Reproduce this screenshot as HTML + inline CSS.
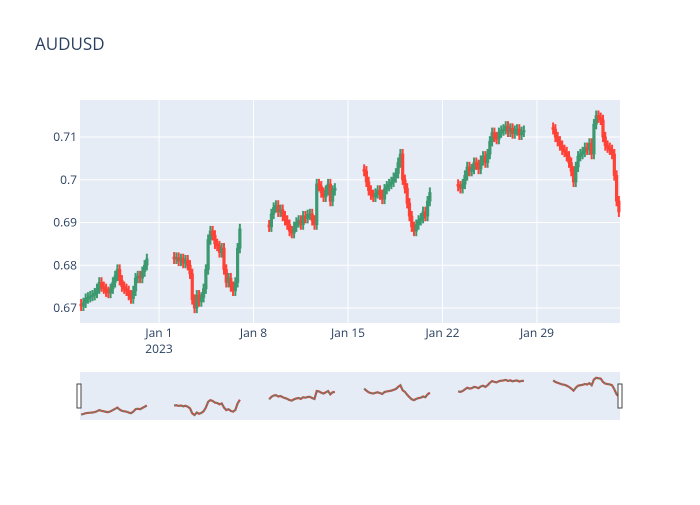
<!DOCTYPE html>
<html><head><meta charset="utf-8"><style>
body{margin:0;background:#fff;font-family:"Liberation Sans",sans-serif}
svg text{font-family:"Open Sans","Liberation Sans",sans-serif;fill:#2a3f5f}
</style></head><body>
<svg id="chart" width="700" height="500">
<rect width="700" height="500" fill="#fff"/>
<text x="35" y="50" font-size="17">AUDUSD</text>
<rect x="80" y="100" width="540" height="223" fill="#e5ecf6"/>
<g id="grid"></g>
<g id="candles"></g>
<g id="axes"></g>
<rect x="80" y="372" width="540" height="48" fill="#e5ecf6"/>
<g id="mini"></g>
<rect x="77" y="384" width="4" height="24" fill="#fff" stroke="#444" stroke-width="1"/>
<rect x="618" y="384" width="4" height="24" fill="#fff" stroke="#444" stroke-width="1"/>
</svg>
<script>
const weekStarts=[80,173,268,363,457,552];
const yTicks=[0.67,0.68,0.69,0.70,0.71];
const yTickLabels=["0.67","0.68","0.69","0.7","0.71"];
const xTickDays=[0,7,14,21,28];
const xTickLabels=["Jan 1","Jan 8","Jan 15","Jan 22","Jan 29"];
const week1=[0.6705,0.6712,0.6722,0.6725,0.6728,0.6730,0.6735,0.6745,0.6760,0.6750,0.6745,0.6738,0.6735,0.6745,0.6760,0.6775,0.6790,0.6765,0.6750,0.6745,0.6740,0.6730,0.6722,0.6740,0.6770,0.6775,0.6770,0.6785,0.6800,0.6815];
const week2=[0.6815,0.6818,0.6810,0.6815,0.6805,0.6812,0.6800,0.6780,0.6720,0.6700,0.6730,0.6715,0.6725,0.6745,0.6790,0.6860,0.6880,0.6870,0.6850,0.6845,0.6830,0.6840,0.6790,0.6760,0.6770,0.6750,0.6740,0.6760,0.6840,0.6885];
const week3=[0.6890,0.6920,0.6935,0.6940,0.6925,0.6930,0.6915,0.6905,0.6895,0.6880,0.6875,0.6890,0.6900,0.6905,0.6895,0.6915,0.6910,0.6918,0.6920,0.6905,0.6895,0.6990,0.6985,0.6970,0.6960,0.6975,0.6990,0.6950,0.6975,0.6980];
const week4=[0.7020,0.6995,0.6975,0.6965,0.6960,0.6968,0.6975,0.6965,0.6955,0.6978,0.6985,0.6990,0.6995,0.7005,0.7015,0.7040,0.7060,0.7000,0.6980,0.6945,0.6915,0.6890,0.6880,0.6895,0.6905,0.6910,0.6925,0.6915,0.6950,0.6970];
const week5=[0.6985,0.6980,0.6990,0.7010,0.7030,0.7020,0.7025,0.7040,0.7035,0.7025,0.7045,0.7055,0.7040,0.7060,0.7090,0.7110,0.7100,0.7095,0.7110,0.7115,0.7118,0.7125,0.7112,0.7120,0.7108,0.7115,0.7118,0.7105,0.7112,0.7115];
const week6=[0.7118,0.7100,0.7090,0.7080,0.7070,0.7065,0.7055,0.7040,0.7020,0.6995,0.7030,0.7055,0.7060,0.7065,0.7075,0.7070,0.7085,0.7060,0.7130,0.7150,0.7145,0.7140,0.7100,0.7080,0.7075,0.7070,0.7060,0.7010,0.6950,0.6925];
const weeks=[week1,week2,week3,week4,week5,week6];

const NS="http://www.w3.org/2000/svg";
function el(t,a,p){const e=document.createElementNS(NS,t);for(const k in a)e.setAttribute(k,a[k]);p.appendChild(e);return e;}
const y=v=>137+(0.71-v)*4275;
const xDay=d=>159+d*13.5;
const ym=v=>415-(v-0.67)*826;
const grid=document.getElementById('grid'),axes=document.getElementById('axes');
yTicks.forEach((t,i)=>{
  const l=el('line',{x1:80,x2:620,y1:y(t),y2:y(t),stroke:'#fff','stroke-width':1},grid);
  
  
  const tx=el('text',{x:77,y:y(t)+4,'text-anchor':'end','font-size':12},axes);
  tx.textContent=yTickLabels[i];
  
  
});
xTickDays.forEach((d,i)=>{
  const l=el('line',{x1:xDay(d),x2:xDay(d),y1:100,y2:323,stroke:'#fff','stroke-width':1},grid);
  
  
  const tx=el('text',{x:xDay(d),y:337,'text-anchor':'middle','font-size':12},axes);
  tx.textContent=xTickLabels[i];
  
  
});
const yr=el('text',{x:xDay(0),y:353,'text-anchor':'middle','font-size':12},axes);
yr.textContent="2023";



const cg=document.getElementById('candles'),mg=document.getElementById('mini');
const step=68/30;
weeks.forEach((w,wi)=>{
  let prev=w[0];
  let pts=[];
  w.forEach((c,i)=>{
    const o=i===0?c+0.0004:prev;
    const hi=Math.max(o,c)+0.0012, lo=Math.min(o,c)-0.0012;
    const x=weekStarts[wi]+i*step+step/2;
    const col=c>=o?'#3D9970':'#FF4136';
    const g=el('g',{},cg);
    
    
    el('line',{x1:x,x2:x,y1:y(hi),y2:y(lo),stroke:col,'stroke-width':2},g);
    el('rect',{x:x-1.2,y:Math.min(y(o),y(c)),width:2.4,height:Math.max(1,Math.abs(y(o)-y(c))),fill:col,stroke:col,'stroke-width':0.8},g);
    pts.push(x+','+ym(c));
    prev=c;
  });
  const pl=el('polyline',{points:pts.join(' '),fill:'none',stroke:'#c0504a','stroke-width':2.2},mg);
  
  
  const pl2=el('polyline',{points:pts.join(' '),fill:'none',stroke:'#3D9970','stroke-width':1,'stroke-dasharray':'2 2'},mg);
  
  
});
</script>
</body></html>
